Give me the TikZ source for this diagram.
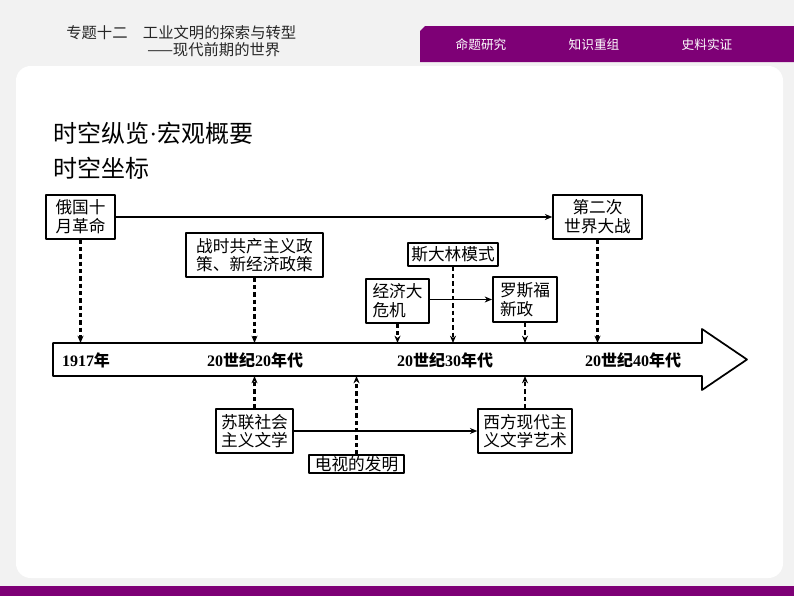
\documentclass[tikz,border=0pt]{standalone}
\usepackage{fontspec}
\setmainfont{Liberation Serif}
\newfontfamily\cjk{Noto Sans CJK SC}
\usetikzlibrary{arrows.meta}
\definecolor{tabpurple}{RGB}{126,0,118}
\definecolor{pagegray}{RGB}{242,242,242}
\def\px{0.75pt}
\newcommand{\yr}[1]{{\rmfamily\bfseries #1}}

\begin{document}
\begin{tikzpicture}[x=0.75pt, y=-0.75pt, line join=round, >={Stealth[length=5.5pt,width=4.5pt]},
  box/.style={draw, line width=1.1pt, inner sep=0pt, align=center, font=\cjk\fontsize{12.5}{14}\selectfont},
  dasharr/.style={->, line width=1.6pt, dash pattern=on 3.3pt off 2.2pt},
  solarr/.style={->, line width=0.9pt},
  era/.style={font=\cjk\bfseries\fontsize{12}{14}\selectfont},
  tab/.style={text=white, font=\cjk\fontsize{9.5}{11}\selectfont}]
\useasboundingbox (0,0) rectangle (794,596);
\fill[pagegray] (0,0) rectangle (794,596);
\fill[white, rounded corners=11pt] (16,66) rectangle (783,578);
\fill[tabpurple] (0,586) rectangle (794,596);
\fill[tabpurple] (420,31) -- (425,26) -- (794,26) -- (794,62) -- (420,62) -- cycle;
\node[anchor=west, inner sep=0pt, font=\cjk\fontsize{11.5}{13}\selectfont, text=black!85] (topic) at (66,33) {专题十二\quad 工业文明的探索与转型};
\node[anchor=west, inner sep=0pt, font=\cjk\fontsize{11.5}{13}\selectfont, text=black!85] (era2) at (147,50) {——现代前期的世界};
\node[tab] (tab1) at (481,45) {命题研究};
\node[tab] (tab2) at (594,45) {知识重组};
\node[tab] (tab3) at (707,45) {史料实证};
\node[anchor=west, inner sep=0pt, font=\cjk\fontsize{18}{20}\selectfont] (title) at (53,133) {时空纵览{\rmfamily\fontsize{18}{20}\selectfont ·}宏观概要};
\node[anchor=west, inner sep=0pt, font=\cjk\fontsize{18}{20}\selectfont] (sub) at (53,168) {时空坐标};

\coordinate (ltop) at (0,343);
\coordinate (lbot) at (0,376);
\draw[line width=1.3pt] (53,343) -- (702,343) -- (702,329) -- (747,359.5) -- (702,390) -- (702,376) -- (53,376) -- cycle;
\node[era] (y17) at (86,360) {\yr{1917}年};
\node[era] (y20) at (255,360) {\yr{20}世纪\yr{20}年代};
\node[era] (y30) at (445,360) {\yr{20}世纪\yr{30}年代};
\node[era] (y40) at (633,360) {\yr{20}世纪\yr{40}年代};

\node[box, minimum width=69*\px, minimum height=44*\px] (ru) at (80.5,217) {俄国十\\月革命};
\node[box, minimum width=89*\px, minimum height=44*\px] (ww2) at (597.5,217) {第二次\\世界大战};
\node[box, minimum width=137*\px, minimum height=44*\px] (wc) at (254.5,255) {战时共产主义政\\策、新经济政策};
\node[box, minimum width=90*\px, minimum height=23*\px] (st) at (453,254.5) {斯大林模式};
\node[box, align=left, minimum width=63*\px, minimum height=44*\px] (cr) at (397.5,301) {经济大\\危机};
\node[box, align=left, line width=1.5pt, minimum width=64*\px, minimum height=45*\px] (nd) at (525,299.5) {罗斯福\\新政};
\node[box, minimum width=77*\px, minimum height=44*\px] (sl) at (254.5,431) {苏联社会\\主义文学};
\node[box, minimum width=94*\px, minimum height=44*\px] (wm) at (525,431) {西方现代主\\义文学艺术};
\node[box, minimum width=95*\px, minimum height=18*\px] (tv) at (356.5,464) {电视的发明};

\draw[solarr] (ru) -- (ww2);
\draw[solarr] (cr.east |- nd) -- (nd.west);
\draw[solarr] (sl) -- (wm);
\draw[dasharr] (ru) -- (ru |- ltop);
\draw[dasharr] (wc) -- (wc |- ltop);
\draw[dasharr] (cr) -- (cr |- ltop);
\draw[dasharr] (st) -- (st |- ltop);
\draw[dasharr] (nd) -- (nd |- ltop);
\draw[dasharr] (ww2) -- (ww2 |- ltop);
\draw[dasharr] (sl) -- (sl |- lbot);
\draw[dasharr] (tv) -- (tv |- lbot);
\draw[dasharr] (wm) -- (wm |- lbot);
\end{tikzpicture}
\end{document}
